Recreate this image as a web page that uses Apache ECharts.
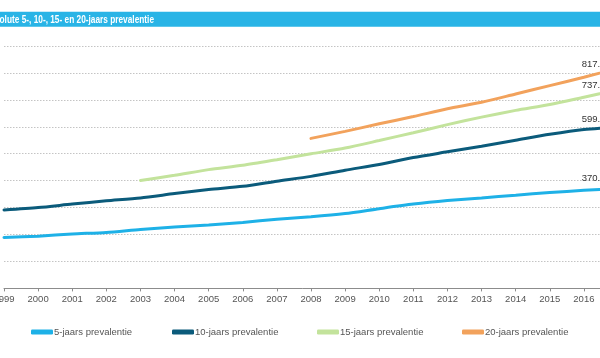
<!DOCTYPE html>
<html>
<head>
<meta charset="utf-8">
<script src="https://cdn.jsdelivr.net/npm/echarts@6/dist/echarts.min.js"></script>
<style>
html,body{margin:0;padding:0;background:#fff;}
#chart{width:600px;height:358px;}
</style>
</head>
<body>
<div id="chart"></div>
<script>
const titleText = 'Absolute 5-, 10-, 15- en 20-jaars prevalentie';
const years = ['1999','2000','2001','2002','2003','2004','2005','2006','2007','2008','2009','2010','2011','2012','2013','2014','2015','2016','2017'];
const names = ['5-jaars prevalentie','10-jaars prevalentie','15-jaars prevalentie','20-jaars prevalentie'];
const prev5  = [189,194,202,208,219,228,235,245,257,266,278,296,313,326,336,346,356,364,370.9];
const prev10 = [291,300,313,325,336,352,367,379,398,416,439,460,486,507,528,550,572,590,599.6];
const prev15 = [null,null,null,null,401,420,441,457,478,500,521,549,578,608,636,661,683,710,737.4];
const prev20 = [null,null,null,null,null,null,null,null,null,557,583,611,638,667,691,722,753,784,817.8];
const yTicks = {min:0, max:900, interval:100};

const colors = ['#1eb1e7','#0b5b7b','#c3e39c','#f2a25c'];
const labelOffsets = [[-7,-10],[-7,-8],[-7,-4],[-7,-4]];
const seriesData = [prev5, prev10, prev15, prev20];

function withEndLabel(arr, off){
  const last = arr.length - 1;
  return arr.map((v,i)=> i===last ? {value:v, label:{show:true, position:'left', offset:off}} : v);
}

const chart = echarts.init(document.getElementById('chart'), null, {renderer:'canvas'});
const lgLeft = [31,172,317,462];

chart.setOption({
  animation:false,
  textStyle:{fontFamily:"'Liberation Sans', Arial, sans-serif"},
  graphic:[
    {type:'rect', left:0, top:11.7, shape:{width:600, height:15}, style:{fill:'#29b4e6'}, silent:true},
    {type:'text', x:154, y:19.7, scaleX:0.79, style:{text:titleText, fill:'#ffffff', fontSize:10.5, fontWeight:'bold',
      fontFamily:"'Liberation Sans', Arial, sans-serif", align:'right', verticalAlign:'middle'}}
  ],
  grid:{left:4, top:46, width:614, height:242.4, containLabel:false, outerBoundsMode:'none'},
  xAxis:{
    type:'category', data:years, boundaryGap:false,
    axisLine:{lineStyle:{color:'#8c8c8c', width:1}},
    axisTick:{show:true, length:3, lineStyle:{color:'#8c8c8c'}},
    axisLabel:{color:'#555', fontSize:9.5, margin:6, interval:0}
  },
  yAxis:{
    type:'value', min:yTicks.min, max:yTicks.max, interval:yTicks.interval,
    axisLine:{show:false}, axisTick:{show:false}, axisLabel:{show:false},
    splitLine:{lineStyle:{color:'#c4c4c4', type:[1.5,1.5], width:1}}
  },
  legend: names.map((n,i)=>({
    data:[{name:n, icon:'roundRect'}], left:lgLeft[i], top:327, padding:0,
    itemWidth:22, itemHeight:5, selectedMode:false,
    textStyle:{color:'#555', fontSize:9.5, padding:[0,0,0,-4]}
  })),
  series: seriesData.map((d,i)=>({
    name:names[i], type:'line', data:withEndLabel(d, labelOffsets[i]),
    smooth:0.25, symbol:'circle', symbolSize:1, showSymbol:true,
    itemStyle:{color:colors[i]},
    lineStyle:{color:colors[i], width:3, cap:'round'},
    label:{show:false, color:'#333', fontSize:9.5, distance:5},
    z: 2+i
  }))
});
</script>
</body>
</html>
